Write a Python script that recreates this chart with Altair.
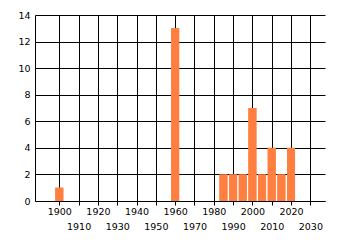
import altair as alt
import pandas as pd

years = [1900, 1960, 1985, 1990, 1995, 2000, 2005, 2010, 2015, 2020]
counts = [1, 13, 2, 2, 2, 7, 2, 4, 2, 4]
row1_ticks = [1900, 1920, 1940, 1960, 1980, 2000, 2020]
row2_ticks = [1910, 1930, 1950, 1970, 1990, 2010, 2030]
y_ticks = [0, 2, 4, 6, 8, 10, 12, 14]

df = pd.DataFrame({"year": years, "count": counts})

FONT = "DejaVu Sans"
xscale = alt.Scale(domain=[1890, 2035], nice=False, zero=False)
yscale = alt.Scale(domain=[0, 14], nice=False)

yaxis = alt.Axis(values=y_ticks, title=None, grid=True, ticks=False,
                 labelPadding=5, domainColor="black", gridColor="black",
                 gridOpacity=1, labelColor="black", labelFont=FONT,
                 labelFontSize=9.5)

base = alt.Chart(df)

layer1 = base.mark_bar(size=8, color="#FF7F40").encode(
    x=alt.X("year:Q", scale=xscale,
            axis=alt.Axis(values=row1_ticks, title=None, grid=True, ticks=True,
                          format="d",
                          tickSize=4, tickColor="black", labelPadding=1,
                          domainColor="black", gridColor="black", gridOpacity=1,
                          labelColor="black", labelFont=FONT, labelFontSize=9.5,
                          labelFlush=False, labelOverlap=False)),
    y=alt.Y("count:Q", scale=yscale, axis=yaxis),
)

layer2 = base.mark_bar(size=8, color="#FF7F40").encode(
    x=alt.X("year:Q", scale=xscale,
            axis=alt.Axis(values=row2_ticks, title=None, grid=True, ticks=True,
                          format="d",
                          orient="bottom", tickSize=4, tickColor="black",
                          labelPadding=16, domain=False, gridColor="black",
                          gridOpacity=1, labelColor="black", labelFont=FONT,
                          labelFontSize=9.5, labelFlush=False, labelOverlap=False)),
    y=alt.Y("count:Q", scale=yscale, axis=yaxis),
)

chart = alt.layer(layer1, layer2).resolve_axis(x="independent").properties(
    width=290, height=186,
    autosize=alt.AutoSizeParams(type="none"),
    padding={"left": 35, "top": 15, "right": 15, "bottom": 44},
    background="white",
).configure_view(strokeWidth=0)

chart.save("out.html", embed_options={"renderer": "svg", "actions": False})
